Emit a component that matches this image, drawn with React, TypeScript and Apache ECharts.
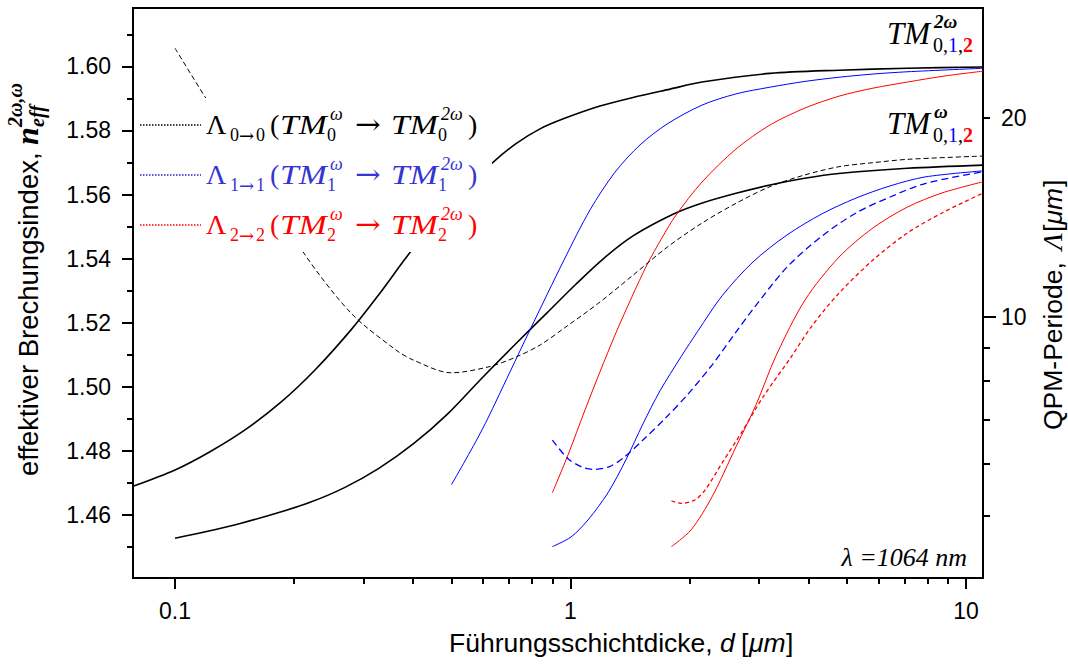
import React, { useEffect, useRef } from 'react';
import * as echarts from 'echarts';

// ---------- axis ranges & ticks ----------
const X_RANGE = [0.0783, 11.04]; // d [µm], log axis
const Y_RANGE = [1.4404, 1.6182]; // n_eff
const R_RANGE = [4.03, 29.34]; // Λ [µm], log axis
const xTickValues = [0.1, 1, 10];
const xTickLabels = ['0.1', '1', '10'];
const xMinorTicks = [0.2, 0.3, 0.4, 0.5, 0.6, 0.7, 0.8, 0.9, 2, 3, 4, 5, 6, 7, 8, 9];
const yTickValues = [1.46, 1.48, 1.5, 1.52, 1.54, 1.56, 1.58, 1.6];
const yMinorTicks = [1.45, 1.47, 1.49, 1.51, 1.53, 1.55, 1.57, 1.59, 1.61];
const rTickLabels = [10, 20];
const rMajorTicks = [10];
const rMinorTicks = [5, 6, 7, 8, 9, 20];

// ---------- effective indices [d, n_eff] ----------
const nTM0_2w = [[0.0783, 1.469], [0.1, 1.4741], [0.1226, 1.4798], [0.1503, 1.4866], [0.1843, 1.495], [0.2259, 1.5053], [0.2786, 1.5178], [0.3299, 1.5293], [0.3815, 1.5399], [0.4414, 1.5499], [0.5256, 1.5602], [0.6295, 1.5695], [0.7281, 1.5759], [0.8374, 1.5805], [0.9629, 1.5837], [1.187, 1.5876], [1.439, 1.5903], [1.785, 1.5929], [2.15, 1.5951], [3.194, 1.5978], [4.771, 1.5988], [7.09, 1.5994], [11.04, 1.5998]];
const nTM1_2w = [[0.5, 1.4695], [0.5974, 1.4866], [0.7031, 1.5047], [0.7899, 1.5178], [0.9629, 1.5396], [1.12, 1.5552], [1.296, 1.567], [1.499, 1.5755], [1.754, 1.582], [2.15, 1.5879], [2.62, 1.5914], [3.194, 1.5935], [3.916, 1.5953], [4.775, 1.5966], [5.82, 1.5976], [7.09, 1.5983], [11.04, 1.5994]];
const nTM2_2w = [[0.9, 1.467], [0.9855, 1.4788], [1.088, 1.4928], [1.187, 1.5047], [1.303, 1.5169], [1.43, 1.5281], [1.561, 1.5381], [1.703, 1.5465], [1.848, 1.5536], [2.15, 1.5639], [2.62, 1.5742], [3.194, 1.5817], [3.916, 1.587], [4.775, 1.5907], [5.82, 1.5932], [7.11, 1.5951], [8.849, 1.597], [11.04, 1.5985]];
const nTM0_w = [[0.1, 1.4528], [0.1202, 1.4549], [0.1469, 1.4575], [0.1795, 1.4605], [0.2195, 1.464], [0.2682, 1.4686], [0.3276, 1.4746], [0.4002, 1.4822], [0.4892, 1.4916], [0.5974, 1.5028], [0.7304, 1.5137], [0.8721, 1.5231], [1.027, 1.5318], [1.208, 1.5399], [1.439, 1.5471], [1.827, 1.554], [2.145, 1.5573], [2.621, 1.5604], [3.194, 1.563], [3.906, 1.5651], [4.771, 1.5666], [7.11, 1.5682], [11.04, 1.5692]];
const nTM1_w = [[0.9, 1.4502], [1.003, 1.4532], [1.107, 1.4585], [1.244, 1.467], [1.381, 1.4773], [1.525, 1.4885], [1.684, 1.4988], [1.903, 1.5094], [2.101, 1.5175], [2.416, 1.5284], [2.894, 1.539], [3.527, 1.5474], [4.325, 1.554], [5.27, 1.5589], [6.425, 1.5627], [7.876, 1.5655], [11.04, 1.5674]];
const nTM2_w = [[1.8, 1.4502], [2.017, 1.4554], [2.279, 1.4657], [2.62, 1.4813], [2.944, 1.4944], [3.308, 1.5097], [3.916, 1.5271], [4.775, 1.5405], [5.82, 1.5496], [7.11, 1.5561], [8.695, 1.5605], [11.04, 1.564]];

// ---------- QPM periods [d, Λ] ----------
const qpm00 = [[0.1, 25.5], [0.119, 21.54], [0.2107, 12.55], [0.2786, 10.14], [0.3621, 8.915], [0.4002, 8.61], [0.4985, 8.235], [0.6223, 8.411], [0.7304, 8.707], [0.8374, 9.07], [0.9645, 9.625], [1.178, 10.5], [1.439, 11.57], [1.757, 12.76], [2.145, 13.86], [2.621, 14.86], [3.194, 15.75], [3.906, 16.4], [4.771, 16.88], [5.82, 17.12], [7.11, 17.32], [11.04, 17.52]];
const qpm11 = [[0.9, 6.515], [0.9838, 6.112], [1.066, 5.936], [1.143, 5.883], [1.251, 5.936], [1.355, 6.112], [1.525, 6.515], [1.754, 7.072], [1.982, 7.647], [2.279, 8.461], [2.62, 9.49], [2.894, 10.28], [3.527, 11.9], [4.325, 13.26], [5.27, 14.37], [6.425, 15.19], [7.876, 15.92], [11.04, 16.59]];
const qpm22 = [[1.8, 5.274], [1.903, 5.226], [2.061, 5.287], [2.189, 5.474], [2.416, 6.013], [2.731, 6.745], [3.067, 7.568], [3.611, 8.7], [4.057, 9.658], [4.775, 10.87], [5.82, 12.2], [7.11, 13.4], [8.695, 14.37], [11.04, 15.4]];

const SANS = 'Arial, "Liberation Sans", Helvetica, sans-serif';
const SERIF = '"Times New Roman", "Liberation Serif", Times, serif';
const ARROW_FONT = '"DejaVu Serif", "Liberation Serif", serif';
const BLUE = '#0000ff';
const RED = '#ff0000';
const LBLUE = '#3535d2';

const lg = (v: number) => Math.log10(v);
const toXY = (pts: number[][]) => pts.map(([d, v]) => [lg(d), v]);
const toXL = (pts: number[][]) => pts.map(([d, v]) => [lg(d), lg(v)]);

type TOpt = { size?: number; italic?: boolean; bold?: boolean; fill?: string; family?: string; align?: string; sx?: number };
const txt = (x: number, y: number, text: string, o: TOpt = {}) => ({
  type: 'text',
  x,
  y,
  z: 100,
  silent: true,
  scaleX: o.sx || 1,
  style: {
    text,
    fill: o.fill || '#000',
    fontSize: o.size || 28,
    fontFamily: o.family || SERIF,
    fontStyle: o.italic ? 'italic' : 'normal',
    fontWeight: o.bold ? 'bold' : 'normal',
    align: o.align || 'left',
    verticalAlign: 'middle',
    textAlign: o.align || 'left',
    textVerticalAlign: 'middle',
  },
});

const axisLineStyle = { color: '#000', width: 2 };

function buildOption() {
  const xMin = lg(X_RANGE[0]);
  const xMax = lg(X_RANGE[1]);
  const rMin = lg(R_RANGE[0]);
  const rMax = lg(R_RANGE[1]);
  const labelFont = { fontSize: 23, fontFamily: SANS, color: '#000' };

  const lineSeries = (data: number[][], color: string, width: number, yIdx: number, dash?: number[]) => ({
    type: 'line',
    xAxisIndex: 0,
    yAxisIndex: yIdx,
    data,
    showSymbol: false,
    symbol: 'none',
    smooth: 0.3,
    silent: true,
    lineStyle: { color, width, type: dash || 'solid' },
    z: 3,
  });

  // legend rows
  const rows = [
    { c: '#000', lc: '#000', k: '0' },
    { c: LBLUE, lc: '#2020d8', k: '1' },
    { c: RED, lc: RED, k: '2' },
  ];
  const legendEls: any[] = [
    { type: 'rect', z: 99, silent: true, shape: { x: 135, y: 98, width: 357, height: 154 }, style: { fill: '#fff' } },
  ];
  rows.forEach((r, i) => {
    const yc = 125 + 50 * i;
    legendEls.push({ type: 'line', z: 101, silent: true, shape: { x1: 140, y1: yc, x2: 201, y2: yc }, style: { stroke: r.lc, lineWidth: 1.6, lineDash: [1.5, 1.5] } });
    legendEls.push(txt(206, yc - 1, 'Λ', { fill: r.c }));
    legendEls.push(txt(230, yc + 10, r.k, { size: 18, fill: r.c }));
    legendEls.push(txt(239, yc + 10, '→', { size: 18, fill: r.c, family: ARROW_FONT }));
    legendEls.push(txt(256, yc + 10, r.k, { size: 18, fill: r.c }));
    legendEls.push(txt(270, yc - 1, '(', { fill: r.c }));
    legendEls.push(txt(280, yc - 1, 'TM', { italic: true, fill: r.c, sx: 1.2 }));
    legendEls.push(txt(327, yc + 10, r.k, { size: 18, fill: r.c }));
    legendEls.push(txt(330, yc - 11, 'ω', { size: 18, italic: true, fill: r.c }));
    legendEls.push(txt(355, yc - 1, '→', { fill: r.c, family: ARROW_FONT, sx: 1.1 }));
    legendEls.push(txt(391, yc - 1, 'TM', { italic: true, fill: r.c, sx: 1.2 }));
    legendEls.push(txt(438, yc + 10, r.k, { size: 18, fill: r.c }));
    legendEls.push(txt(441, yc - 11, '2ω', { size: 18, italic: true, fill: r.c }));
    legendEls.push(txt(468, yc - 1, ')', { fill: r.c }));
  });

  // mode annotations top right
  const modeLabel = (yc: number, sup: string) => [
    txt(887, yc, 'TM', { size: 31, italic: true }),
    txt(934, yc - 12, sup, { size: 19, italic: true, bold: true }),
    txt(933, yc + 12, '0,', { size: 20 }),
    txt(948, yc + 12, '1', { size: 20, fill: BLUE }),
    txt(958, yc + 12, ',', { size: 20 }),
    txt(963, yc + 12, '2', { size: 20, fill: RED, bold: true }),
  ];

  const leftTitle = {
    type: 'group',
    x: 28,
    y: 476,
    rotation: Math.PI / 2,
    children: [
      txt(0, 0, 'effektiver Brechungsindex, ', { size: 27.5, family: SANS }),
      txt(331, -1, 'n', { size: 32, italic: true, bold: true }),
      txt(349, 9, 'eff', { size: 20, italic: true, bold: true }),
      txt(349, -13, '2ω,ω', { size: 20, italic: true, bold: true }),
    ],
  };

  const rightTitle = {
    type: 'group',
    x: 1053,
    y: 430,
    rotation: Math.PI / 2,
    children: [
      txt(0, 0, 'QPM-Periode,', { size: 26.5, family: SANS }),
      txt(180, -1, 'Λ', { size: 28, italic: true }),
      txt(198, 0, '[', { size: 26.5, family: SANS }),
      txt(205.5, 0, 'μm', { size: 26.5, family: SANS, italic: true }),
      txt(243, 0, ']', { size: 26.5, family: SANS }),
    ],
  };

  const xTitle = [
    txt(449, 643, 'Führungsschichtdicke,', { size: 26.5, family: SANS }),
    txt(720, 643, 'd', { size: 26.5, family: SANS, italic: true }),
    txt(741, 643, '[', { size: 26.5, family: SANS }),
    txt(749, 643, 'μm', { size: 26.5, family: SANS, italic: true }),
    txt(786, 643, ']', { size: 26.5, family: SANS }),
  ];

  return {
    animation: false,
    backgroundColor: '#fff',
    grid: { left: 133, top: 8, right: 85, bottom: 86, show: true, borderColor: '#000', borderWidth: 2, backgroundColor: 'transparent' },
    xAxis: [
      {
        type: 'value', position: 'bottom', min: xMin, max: xMax,
        axisLine: { show: true, onZero: false, lineStyle: axisLineStyle },
        axisTick: { show: true, length: 11, customValues: xTickValues.map(lg), lineStyle: { color: '#000', width: 2 } },
        axisLabel: {
          show: true, customValues: xTickValues.map(lg), margin: 21, ...labelFont,
          formatter: (v: number) => {
            let best = 0;
            xTickValues.forEach((t, i) => { if (Math.abs(lg(t) - v) < Math.abs(lg(xTickValues[best]) - v)) best = i; });
            return xTickLabels[best];
          },
        },
        splitLine: { show: false },
      },
      {
        type: 'value', position: 'bottom', min: xMin, max: xMax,
        axisLine: { show: false, onZero: false },
        axisTick: { show: true, length: 6, customValues: xMinorTicks.map(lg), lineStyle: { color: '#000', width: 2 } },
        axisLabel: { show: false },
        splitLine: { show: false },
      },
    ],
    yAxis: [
      {
        type: 'value', position: 'left', min: Y_RANGE[0], max: Y_RANGE[1],
        axisLine: { show: true, onZero: false, lineStyle: axisLineStyle },
        axisTick: { show: true, length: 11, customValues: yTickValues, lineStyle: { color: '#000', width: 2 } },
        axisLabel: { show: true, customValues: yTickValues, margin: 22, ...labelFont, formatter: (v: number) => v.toFixed(2) },
        splitLine: { show: false },
      },
      {
        type: 'value', position: 'left', min: Y_RANGE[0], max: Y_RANGE[1],
        axisLine: { show: false, onZero: false },
        axisTick: { show: true, length: 6, customValues: yMinorTicks, lineStyle: { color: '#000', width: 2 } },
        axisLabel: { show: false },
        splitLine: { show: false },
      },
      {
        type: 'value', position: 'right', min: rMin, max: rMax,
        axisLine: { show: true, onZero: false, lineStyle: axisLineStyle },
        axisTick: { show: true, length: 13, customValues: rMajorTicks.map(lg), lineStyle: { color: '#000', width: 2 } },
        axisLabel: { show: true, customValues: rTickLabels.map(lg), margin: 18, ...labelFont, formatter: (v: number) => String(Math.round(Math.pow(10, v))) },
        splitLine: { show: false },
      },
      {
        type: 'value', position: 'right', min: rMin, max: rMax,
        axisLine: { show: false, onZero: false },
        axisTick: { show: true, length: 7, customValues: rMinorTicks.map(lg), lineStyle: { color: '#000', width: 2 } },
        axisLabel: { show: false },
        splitLine: { show: false },
      },
    ],
    series: [
      lineSeries(toXY(nTM0_2w), '#000', 1.6, 0),
      lineSeries(toXY(nTM0_w), '#000', 1.6, 0),
      lineSeries(toXY(nTM1_2w), BLUE, 1, 0),
      lineSeries(toXY(nTM1_w), BLUE, 1, 0),
      lineSeries(toXY(nTM2_2w), RED, 1, 0),
      lineSeries(toXY(nTM2_w), RED, 1, 0),
      lineSeries(toXL(qpm00), '#000', 1, 2, [5, 3]),
      lineSeries(toXL(qpm11), BLUE, 1.3, 2, [7, 4]),
      lineSeries(toXL(qpm22), RED, 1.3, 2, [4, 3]),
    ],
    graphic: {
      elements: [
        ...legendEls,
        ...modeLabel(33, '2ω'),
        ...modeLabel(123, 'ω'),
        txt(967, 557, 'λ =1064 nm', { size: 26, italic: true, align: 'right' }),
        leftTitle,
        rightTitle,
        ...xTitle,
      ],
    },
  };
}

export default function App() {
  const ref = useRef<HTMLDivElement>(null);
  useEffect(() => {
    if (!ref.current) return;
    const chart = echarts.init(ref.current, undefined, { renderer: 'svg' });
    chart.setOption(buildOption() as any);
    return () => chart.dispose();
  }, []);
  return (
    <div
      ref={ref}
      style={{ position: 'fixed', left: 0, top: 0, width: '1068px', height: '664px', background: '#fff' }}
    />
  );
}
